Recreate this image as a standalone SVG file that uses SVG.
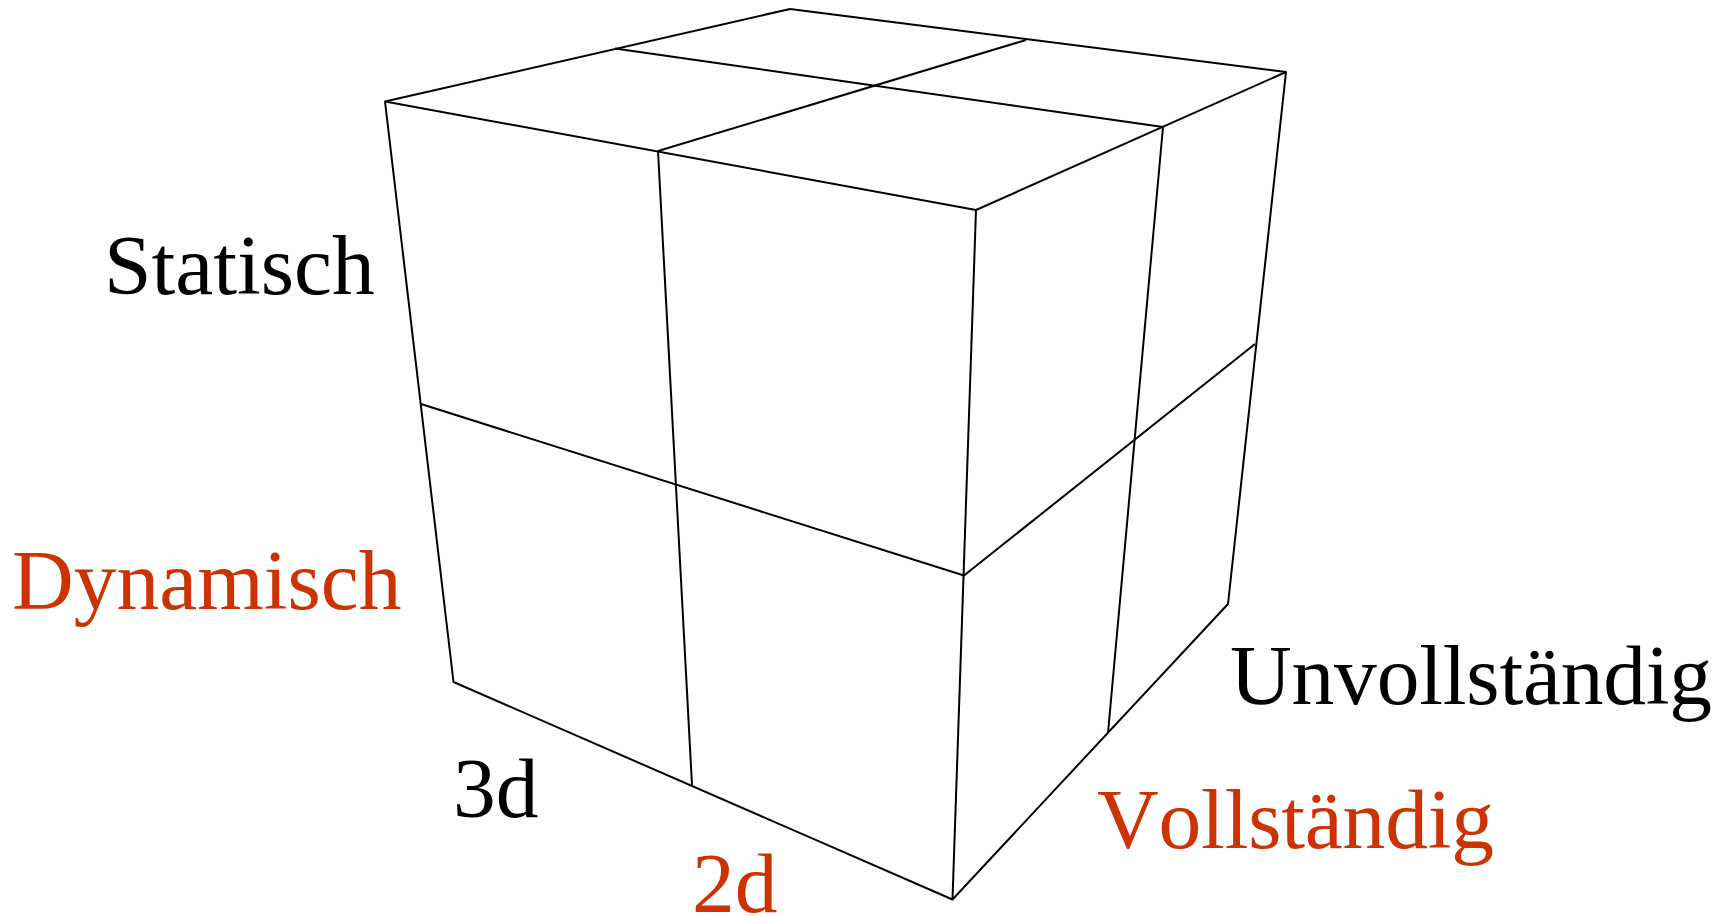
<svg xmlns="http://www.w3.org/2000/svg" width="1730" height="916" viewBox="0 0 1730 916">
<style>
.l{fill:none;stroke:#000;stroke-width:2;stroke-linejoin:round}
text{font-family:"Liberation Serif","Times New Roman",serif;font-size:85.500px;font-kerning:none}
.k{fill:#000}.r{fill:#cc3300}
</style>
<rect width="1730" height="916" fill="#fff"/>
<g id="connectors">
<path class="l" d="M385 101.500L790 9L1286 72L1228 604L952.500 899.500L453.500 682Z"/>
<path class="l" d="M385 101.500L976 210L1286 72"/>
<path class="l" d="M976 210L952.500 899.500"/>
<path class="l" d="M615 48.500L1163 127"/>
<path class="l" d="M1026 40L658 151"/>
<path class="l" d="M658 151L692 785"/>
<path class="l" d="M1163 127L1108 733"/>
<path class="l" d="M421 404L964 575.500L1255 344"/>
</g>
<g id="label-statisch"><text class="k" x="104" y="294">Statisch</text></g>
<g id="label-dynamisch"><text class="r" x="12" y="609">Dynamisch</text></g>
<g id="label-3d"><text class="k" x="453" y="817">3d</text></g>
<g id="label-2d"><text class="r" x="692" y="912">2d</text></g>
<g id="label-vollstaendig"><text class="r" x="1097" y="848" letter-spacing="-0.200">Vollständig</text></g>
<g id="label-unvollstaendig"><text class="k" x="1230" y="704" letter-spacing="-0.200">Unvollständig</text></g>
</svg>
